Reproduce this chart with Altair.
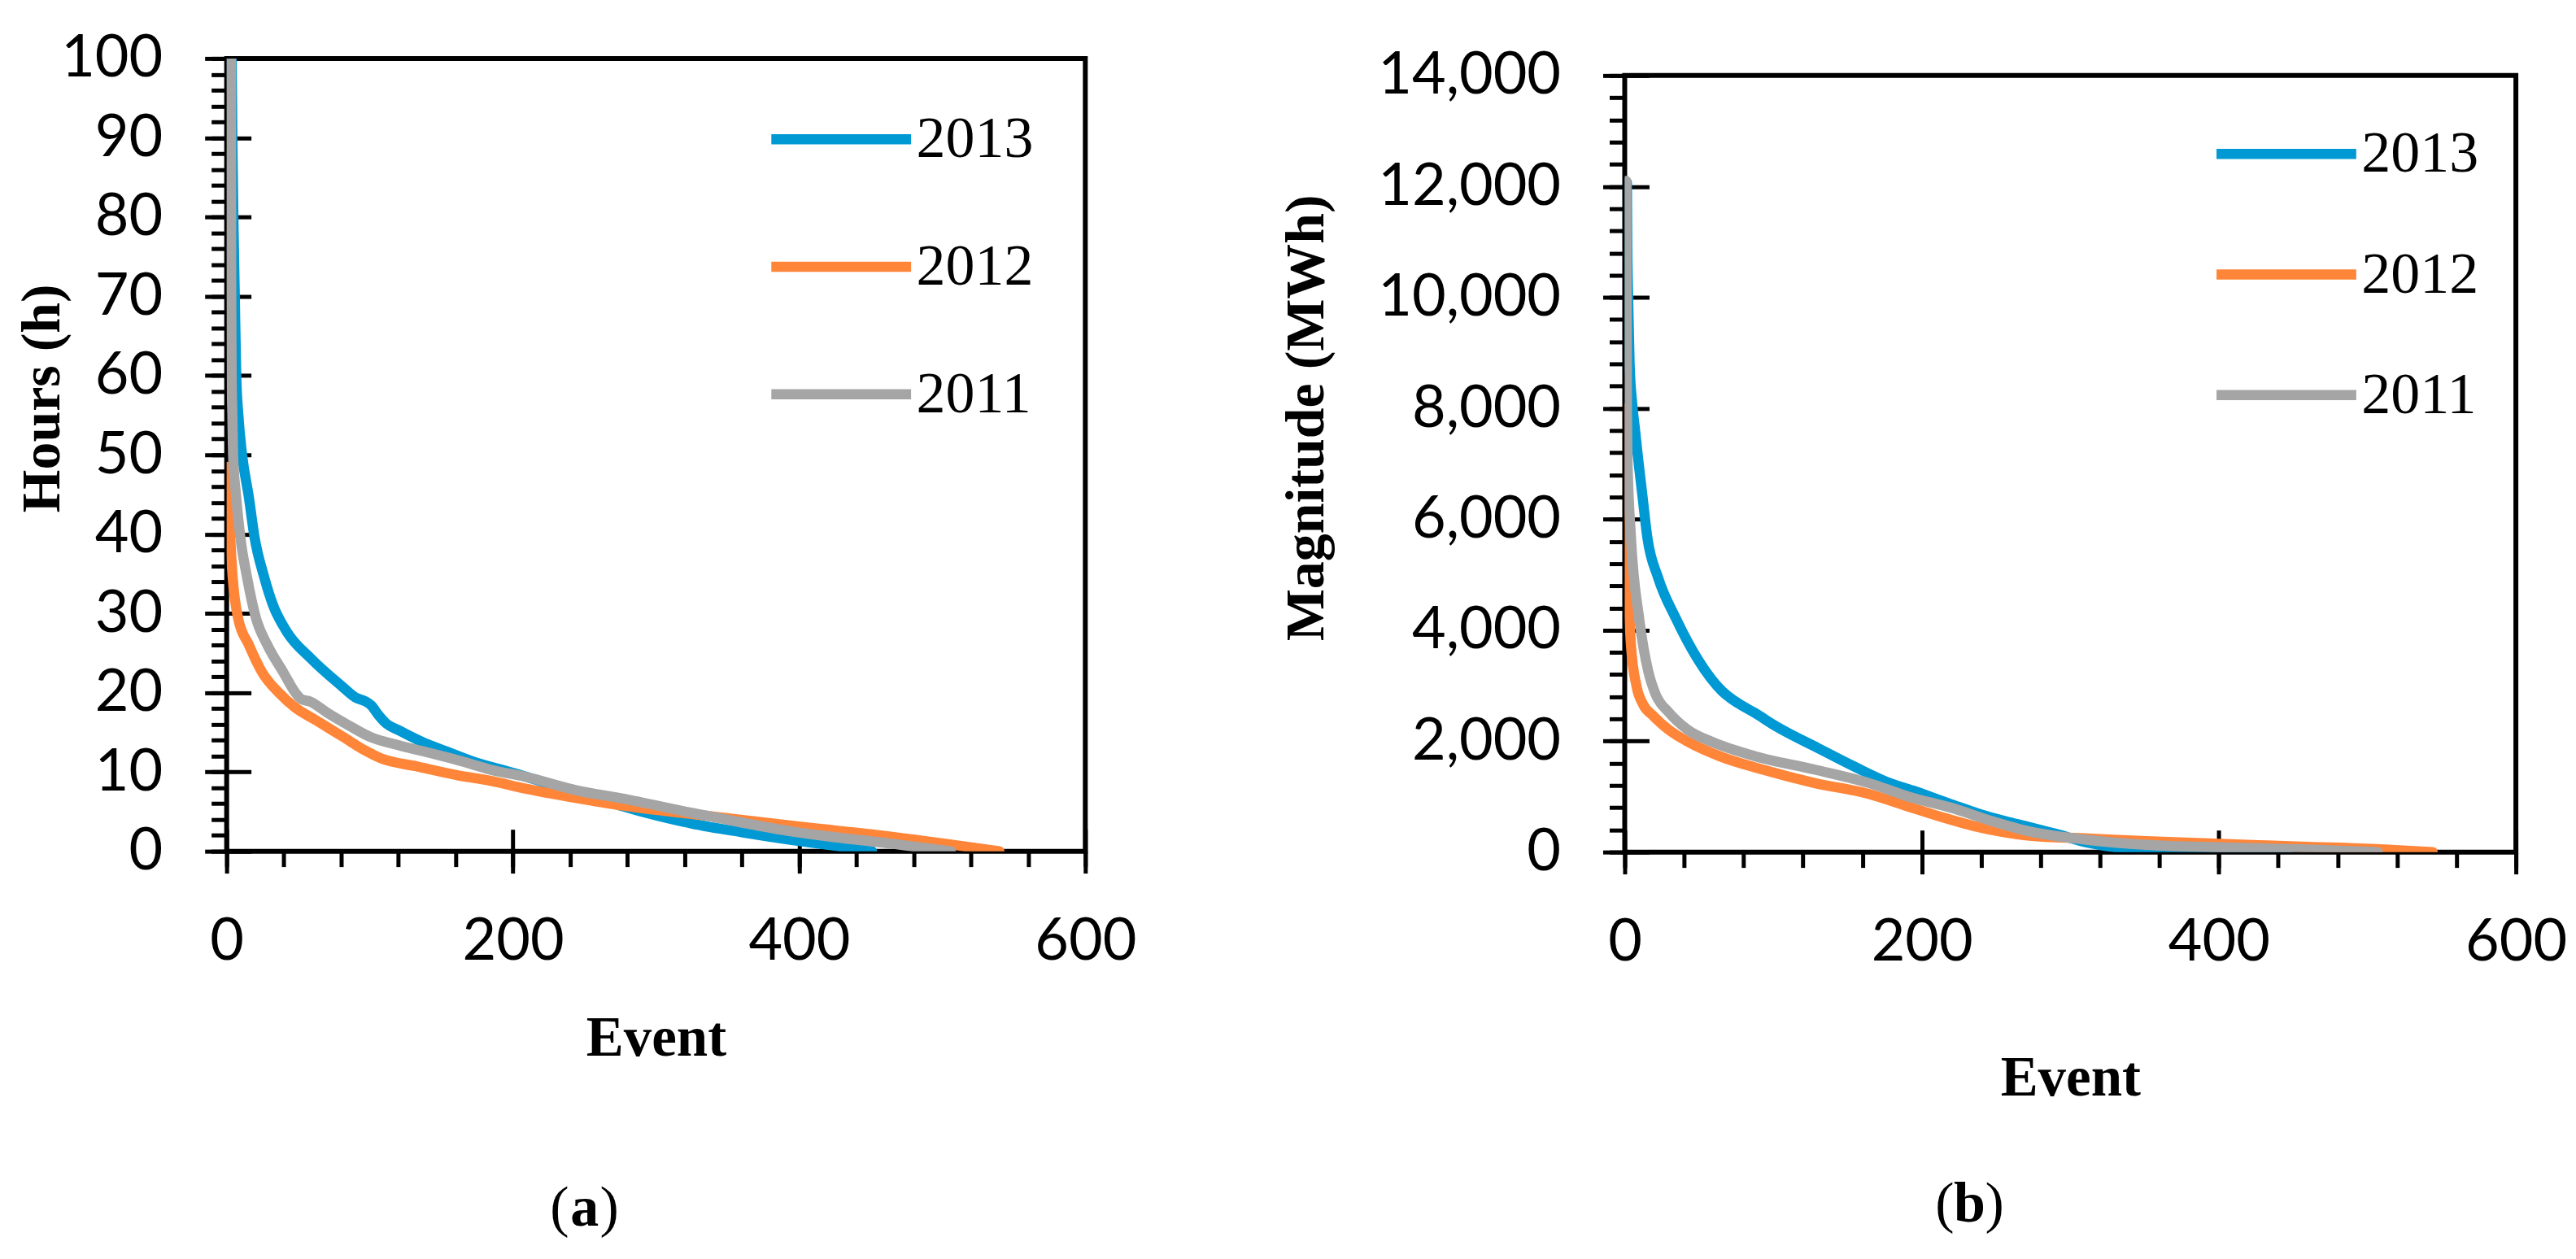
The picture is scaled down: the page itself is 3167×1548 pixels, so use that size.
import altair as alt
import pandas as pd

YEARS = ["2013", "2012", "2011"]
COLORS = ["#0099D4", "#FF8539", "#A5A5A5"]

# ---------- (a) duration of events (hours) ----------
a13_event = [3.5, 4, 4.7, 5.7, 6.7, 8.2, 10.8, 15.4, 19.4, 26.2, 32.3, 42, 59, 80, 90, 97, 101, 106, 111, 121,
             136.6, 156.5, 171, 200, 240, 290, 325, 360, 396, 425, 451]
a13_hours = [100, 90, 80, 70, 60, 55, 50, 44.8, 39.7, 34.6, 31.1, 27.7, 24.3, 20.9, 19.4, 18.9, 18.4, 17.2, 16.2, 15.2,
             13.8, 12.4, 11.4, 9.9, 7.7, 5.0, 3.5, 2.4, 1.4, 0.7, 0]

a12_event = [1, 1.5, 2.5, 4.2, 8, 15.6, 24.7, 37, 47.4, 62.6, 81.6, 96.8, 108, 133, 161, 184, 208.7, 254.6, 275,
             325, 396, 466, 540]
a12_hours = [48.5, 44.8, 39.7, 34.6, 29.4, 26, 22.6, 19.9, 18.2, 16.5, 14.4, 12.7, 11.7, 10.7, 9.6, 8.9, 7.9, 6.4, 5.8,
             4.7, 3.2, 1.8, 0]

a11_event = [3, 3.2, 3.5, 4, 4.5, 6.6, 9.5, 14.2, 20.5, 28.5, 39.5, 48.4, 52, 58.8, 70, 86, 100.6, 119.5, 142, 171,
             184, 208.7, 246.7, 275, 325, 396, 466, 506]
a11_hours = [100, 70, 60, 55, 50, 44.8, 39.7, 34.6, 29.4, 26, 22.6, 19.9, 19.2, 18.85, 17.5, 15.8, 14.4, 13.4, 12.4, 11,
             10.3, 9.4, 7.6, 6.7, 4.85, 2.46, 0.92, 0]

# ---------- (b) magnitude of events (MWh) ----------
b13_event = [1.5, 1.7, 2.3, 3.3, 5, 7, 9, 12, 15.2, 22.5, 34.4, 49, 65.6, 72, 78, 87.5, 102, 130, 155, 177,
             194, 219, 247, 265, 290, 312, 351, 404, 446]
b13_mwh = [12070, 11000, 10000, 8800, 8100, 7600, 7100, 6408, 5677, 4946, 4215, 3484, 2900, 2760, 2656, 2510, 2266,
           1876, 1535, 1260, 1110, 870, 620, 500, 330, 170, 40, 8, 0]

b12_event = [1, 1.2, 1.5, 2.5, 4.2, 7.9, 12.5, 19, 29, 43.6, 63.7, 93, 128, 164.5, 191, 216, 235, 255, 272.7, 312,
             351, 404, 456, 509, 544]
b12_mwh = [8000, 6500, 5500, 4700, 3728, 2997, 2656, 2461, 2217, 1973, 1730, 1486, 1243, 1048, 820, 609, 470, 360,
           295, 245, 195, 146, 97, 49, 0]

b11_event = [1, 1.3, 1.5, 1.8, 4.2, 9.7, 16, 20.7, 30, 41.8, 60, 87.5, 128, 164.5, 191, 221, 247, 272.7, 312, 351,
             404, 456, 507]
b11_mwh = [12100, 10000, 8000, 7140, 5677, 4215, 3240, 2851, 2510, 2217, 1973, 1730, 1486, 1243, 1000, 790, 560, 370,
           219, 131, 83, 49, 0]

# ---------- ticks ----------
X_MAJOR = [0, 200, 400, 600]
X_MINOR = list(range(0, 601, 40))
A_Y_MAJOR = list(range(0, 101, 10))
A_Y_MINOR = list(range(0, 101, 2))
B_Y_MAJOR = list(range(0, 14001, 2000))
B_Y_MINOR = list(range(0, 14001, 400))

TICK_FONT = "Lato"
SERIF = "Liberation Serif"
SUB_SIZE = 70
HALF_LETTER = 18  # half the width of the bold panel letter


def frame(series):
    rows = []
    for year, xs, ys in series:
        for i, (x, y) in enumerate(zip(xs, ys)):
            rows.append({"year": year, "event": x, "value": y, "i": i})
    return pd.DataFrame(rows)


def panel(df, W, H, ymax, y_major, y_minor, y_title, y_fmt, yt_x, yt_y, xt_y, letter, sub_x, sub_y, lx, ly, rowpad):
    xs = alt.Scale(domain=[0, 600], nice=False, zero=False)
    ys = alt.Scale(domain=[0, ymax], nice=False)
    base = alt.Chart(df)
    sub_style = dict(titleFont=SERIF, titleFontSize=SUB_SIZE, titleBaseline="alphabetic", titleAngle=0)

    lines = base.mark_line(strokeWidth=12.5, strokeCap="round", strokeJoin="round",
                           interpolate="monotone", clip=True).encode(
        x=alt.X("event:Q", scale=xs, axis=alt.Axis(
            orient="bottom", values=X_MAJOR, tickSize=27, tickWidth=5, domain=False, grid=False,
            labelFont=TICK_FONT, labelFontSize=72, labelPadding=49, labelFlush=False, labelLimit=0,
            title="Event", titleFont=SERIF, titleFontSize=69, titleFontWeight="bold",
            titleBaseline="alphabetic", titleAlign="center", titleX=W / 2, titleY=xt_y)),
        y=alt.Y("value:Q", scale=ys, axis=alt.Axis(
            orient="left", values=y_major, format=y_fmt, tickSize=27, tickWidth=5, domain=False, grid=False,
            labelFont=TICK_FONT, labelFontSize=72, labelPadding=52, labelFlush=False, labelLimit=0,
            title=y_title, titleFont=SERIF, titleFontSize=68, titleFontWeight="bold", titleLimit=0,
            titleAngle=270, titleBaseline="middle", titleAlign="center", titleX=yt_x, titleY=yt_y)),
        color=alt.Color("year:N", scale=alt.Scale(domain=YEARS, range=COLORS), legend=alt.Legend(
            orient="none", legendX=lx, legendY=ly, title=None, symbolType="stroke",
            symbolSize=172 * 172, symbolStrokeWidth=12.5, labelFont=SERIF, labelFontSize=72,
            labelColor="black", labelOffset=0, rowPadding=rowpad, padding=0, labelLimit=0)),
        order="i:Q",
    )

    # minor ticks; their axis titles carry the parentheses of the panel label
    minor = base.mark_line(strokeOpacity=0).encode(
        x=alt.X("event:Q", scale=xs, axis=alt.Axis(
            orient="bottom", values=X_MINOR, tickSize=19, tickWidth=5, labels=False, domain=False, grid=False,
            title="(", titleFontWeight="normal", titleAlign="right",
            titleX=sub_x - HALF_LETTER - 1, titleY=sub_y, **sub_style)),
        y=alt.Y("value:Q", scale=ys, axis=alt.Axis(
            orient="left", values=y_minor, tickSize=19, tickWidth=5, labels=False, domain=False, grid=False,
            title=")", titleFontWeight="normal", titleAlign="left",
            titleX=sub_x + HALF_LETTER + 1, titleY=H + sub_y, **sub_style)),
        detail="year:N",
        order="i:Q",
    )

    # major ticks pointing into the plot; the bold letter of the panel label
    inner = base.mark_line(strokeOpacity=0).encode(
        x=alt.X("event:Q", scale=xs, axis=alt.Axis(
            orient="top", offset=-H, values=X_MAJOR, tickSize=27, tickWidth=5,
            labels=False, domain=False, grid=False,
            title=letter, titleFontWeight="bold", titleAlign="center",
            titleX=sub_x, titleY=sub_y, **sub_style)),
        y=alt.Y("value:Q", scale=ys, axis=alt.Axis(
            orient="right", offset=-W, values=y_major, tickSize=30, tickWidth=5,
            labels=False, domain=False, grid=False, title=None)),
        detail="year:N",
        order="i:Q",
    )

    return alt.layer(lines, minor, inner).resolve_axis(x="independent", y="independent").properties(
        width=W, height=H)


df_a = frame([("2013", a13_event, a13_hours), ("2012", a12_event, a12_hours), ("2011", a11_event, a11_hours)])
df_b = frame([("2013", b13_event, b13_mwh), ("2012", b12_event, b12_mwh), ("2011", b11_event, b11_mwh)])

WA, HA = 1057, 976
WB, HB = 1097, 956

left = panel(df_a, WA, HA, 100, A_Y_MAJOR, A_Y_MINOR, "Hours (h)", "d",
             yt_x=-226, yt_y=418, xt_y=251, letter="a", sub_x=440, sub_y=460, lx=664, ly=7, rowpad=28)
right = panel(df_b, WB, HB, 14000, B_Y_MAJOR, B_Y_MINOR, "Magnitude (MWh)", ",d",
              yt_x=-391, yt_y=421, xt_y=299, letter="b", sub_x=424, sub_y=454, lx=722, ly=25, rowpad=19.5)

spacer = alt.Chart(pd.DataFrame({"s": [0]})).mark_point(opacity=0).properties(
    width=WB, height=21, view=alt.ViewBackground(stroke=None))

right_col = alt.vconcat(spacer, right, spacing=0, bounds="flush")

chart = alt.hconcat(left, right_col, spacing=664, bounds="flush").resolve_scale(
    color="independent"
).properties(
    padding={"left": 8, "top": 24, "right": 0, "bottom": 0},
    background="white",
).configure_view(
    stroke="black", strokeWidth=6
).configure_axis(
    tickColor="black", labelColor="black", titleColor="black"
)

chart.save("out.html", embed_options={"renderer": "svg", "actions": False})
